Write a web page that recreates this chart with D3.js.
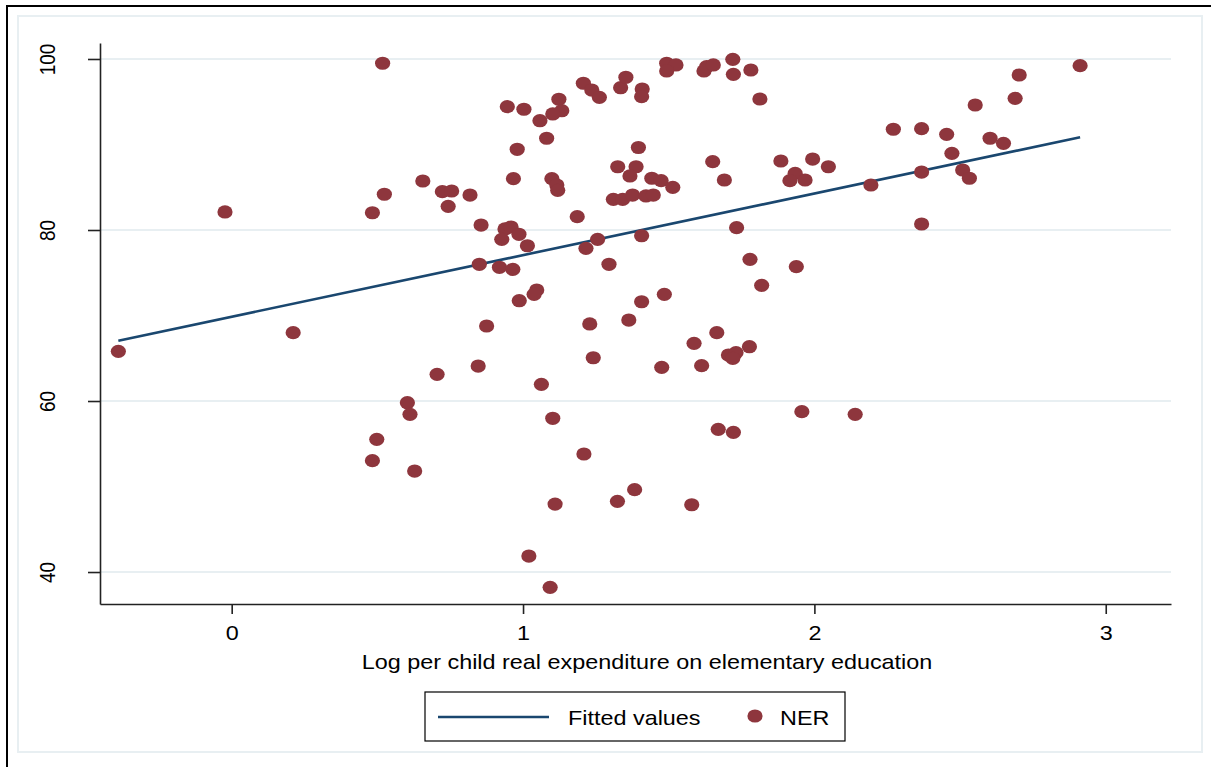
<!DOCTYPE html>
<html>
<head>
<meta charset="utf-8">
<script src="https://cdn.jsdelivr.net/npm/d3@7"></script>
<style>
  body { margin: 0; background: #fff; }
  text { font-family: "Liberation Sans", Arial, sans-serif; fill: #000; }
</style>
</head>
<body>
<div id="chart"></div>
<script>
// NER by log per child real expenditure
const nerX = [
  -0.389, -0.023, 0.211, 0.518, 0.483, 0.524, 0.498, 0.483, 0.603, 0.612,
  0.628, 0.705, 0.656, 0.723, 0.755, 0.743, 0.818, 0.856, 0.846, 0.875,
  0.946, 1.003, 1.058, 1.123, 1.133, 1.102, 1.081, 0.980, 0.967, 1.099,
  1.116, 1.119, 1.207, 1.236, 1.262, 1.335, 1.353, 1.409, 1.407, 1.493,
  1.525, 1.493, 1.621, 1.630, 1.653, 1.720, 1.722, 1.782, 1.813, 1.396,
  1.325, 1.388, 1.367, 1.442, 1.474, 1.514, 1.310, 1.342, 1.376, 1.422,
  1.447, 1.651, 1.691, 1.885, 1.934, 1.916, 1.968, 1.994, 2.048, 2.194,
  2.271, 2.368, 2.454, 2.472, 2.509, 2.532, 2.368, 2.368, 2.552, 2.603,
  2.649, 2.689, 2.703, 2.912, 1.186, 0.938, 0.959, 0.927, 0.986, 1.015,
  1.256, 1.216, 1.407, 1.733, 0.850, 0.919, 0.965, 1.295, 1.779, 1.819,
  1.938, 1.047, 1.038, 0.987, 1.407, 1.485, 1.229, 1.363, 1.665, 1.587,
  1.705, 1.731, 1.720, 1.777, 1.241, 1.476, 1.613, 1.063, 1.102, 1.670,
  1.722, 1.957, 2.140, 1.209, 1.110, 1.324, 1.383, 1.579, 1.020, 1.093
]
const nerY = [
  65.81, 82.11, 67.99, 99.50, 82.02, 84.18, 55.52, 53.02, 59.80, 58.44,
  51.81, 63.12, 85.73, 84.48, 84.56, 82.77, 84.09, 80.58, 64.09, 68.77,
  94.42, 94.12, 92.78, 95.29, 93.95, 93.57, 90.73, 89.44, 86.00, 86.00,
  85.26, 84.64, 97.16, 96.37, 95.52, 96.64, 97.86, 96.49, 95.59, 99.50,
  99.30, 98.60, 98.60, 99.10, 99.30, 99.96, 98.21, 98.71, 95.32, 89.65,
  87.40, 87.40, 86.32, 86.05, 85.77, 84.99, 83.59, 83.59, 84.09, 83.98,
  84.09, 87.99, 85.85, 88.07, 86.63, 85.77, 85.85, 88.30, 87.40, 85.26,
  91.78, 91.85, 91.19, 88.97, 87.02, 86.05, 86.78, 80.70, 94.62, 90.73,
  90.14, 95.40, 98.13, 99.22, 81.56, 80.12, 80.35, 78.91, 79.50, 78.16,
  78.91, 77.86, 79.33, 80.27, 75.99, 75.64, 75.40, 75.99, 76.57, 73.53,
  75.71, 72.98, 72.48, 71.73, 71.61, 72.48, 69.01, 69.47, 67.99, 66.75,
  65.38, 65.65, 64.99, 66.35, 65.06, 63.94, 64.13, 61.95, 57.98, 56.69,
  56.34, 58.75, 58.44, 53.80, 47.95, 48.27, 49.63, 47.87, 41.87, 38.21
]

// fitted values line, at the smallest and largest x
const fitX = [-0.389, 2.912]
const fitY = [67.05, 90.84]

const xTicks = [0, 1, 2, 3]
const yTicks = [40, 60, 80, 100]
const xTitle = "Log per child real expenditure on elementary education"
const legendLabels = ["Fitted values", "NER"]

const W = 1211, H = 767
const SX = 1.17   // the picture is a bit wider than tall
const MAROON = "#8e363d", NAVY = "#1a476f", GRID = "#e8eff2"

const svg = d3.select("#chart").append("svg")
  .attr("width", W)
  .attr("height", H)

// outer frame and graph region outline
svg.append("rect")
  .attr("x", 7).attr("y", 6)
  .attr("width", 1220).attr("height", 780)
  .attr("fill", "none").attr("stroke", "#000").attr("stroke-width", 2)
svg.append("rect")
  .attr("x", 18).attr("y", 16)
  .attr("width", 1184).attr("height", 736)
  .attr("fill", "none").attr("stroke", GRID).attr("stroke-width", 2)

const x = d3.scaleLinear().domain([-0.452, 3.224]).range([100, 1171])
const y = d3.scaleLinear().domain([36.26, 101.87]).range([604, 43])

// gridlines
svg.append("g")
  .selectAll("line")
  .data(yTicks)
  .join("line")
    .attr("x1", 100).attr("x2", 1171)
    .attr("y1", d => y(d)).attr("y2", d => y(d))
    .attr("stroke", GRID).attr("stroke-width", 2)

// axes
const xAxis = svg.append("g")
  .attr("transform", "translate(0,604)")
  .call(d3.axisBottom(x).tickValues(xTicks).tickSize(10).tickSizeOuter(0).tickFormat(d3.format("d")))
xAxis.select(".domain").attr("stroke", "#222").attr("stroke-width", 1.6)
xAxis.selectAll(".tick line").attr("stroke", "#222").attr("stroke-width", 1.6)
xAxis.selectAll(".tick text")
  .attr("y", 36).attr("dy", 0)
  .attr("transform", `scale(${SX},1)`)
  .style("font-size", "20px")
  .style("font-family", "Liberation Sans, Arial, sans-serif")
  .attr("fill", "#000")

const yAxis = svg.append("g")
  .attr("transform", "translate(100,0)")
  .call(d3.axisLeft(y).tickValues(yTicks).tickSize(12).tickSizeOuter(0))
yAxis.select(".domain").attr("stroke", "#222").attr("stroke-width", 1.6)
yAxis.selectAll(".tick line").attr("stroke", "#222").attr("stroke-width", 1.6)
yAxis.selectAll(".tick text")
  .attr("x", null).attr("dy", 0)
  .attr("text-anchor", "middle")
  .attr("transform", `translate(-45,0) scale(${SX},1) rotate(-90)`)
  .style("font-size", "19px")
  .style("font-family", "Liberation Sans, Arial, sans-serif")
  .attr("fill", "#000")

// axis title
svg.append("text")
  .attr("text-anchor", "middle")
  .attr("transform", `translate(647,669) scale(${SX},1)`)
  .style("font-size", "20px")
  .text(xTitle)

// fitted line
const fitData = fitX.map((d, i) => [d, fitY[i]])
svg.append("path")
  .datum(fitData)
  .attr("d", d3.line().x(d => x(d[0])).y(d => y(d[1])))
  .attr("fill", "none")
  .attr("stroke", NAVY)
  .attr("stroke-width", 2.6)

// NER points
const points = nerX.map((d, i) => ({ x: d, y: nerY[i] }))
svg.append("g")
  .selectAll("ellipse")
  .data(points)
  .join("ellipse")
    .attr("cx", d => x(d.x))
    .attr("cy", d => y(d.y))
    .attr("rx", 7.6)
    .attr("ry", 6.6)
    .attr("fill", MAROON)

// legend
const legend = svg.append("g")
legend.append("rect")
  .attr("x", 425).attr("y", 692)
  .attr("width", 420).attr("height", 49)
  .attr("fill", "#fff").attr("stroke", "#000").attr("stroke-width", 1.2)
legend.append("line")
  .attr("x1", 438).attr("x2", 549)
  .attr("y1", 717).attr("y2", 717)
  .attr("stroke", NAVY).attr("stroke-width", 2.6)
legend.append("text")
  .attr("transform", `translate(568,725) scale(${SX},1)`)
  .style("font-size", "20px")
  .text(legendLabels[0])
legend.append("ellipse")
  .attr("cx", 755).attr("cy", 716)
  .attr("rx", 7.6).attr("ry", 6.6)
  .attr("fill", MAROON)
legend.append("text")
  .attr("transform", `translate(780,725) scale(${SX},1)`)
  .style("font-size", "20px")
  .text(legendLabels[1])
</script>
</body>
</html>
